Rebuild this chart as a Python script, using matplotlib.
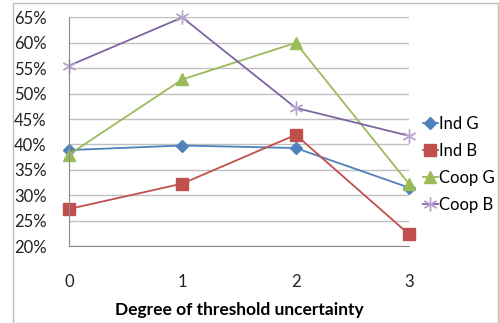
import matplotlib.pyplot as plt
from matplotlib.patches import Rectangle

# data
degree = [0, 1, 2, 3]
ind_g = [38.9, 39.8, 39.3, 31.5]
ind_b = [27.3, 32.3, 41.9, 22.3]
coop_g = [38.0, 52.8, 60.0, 32.2]
coop_b = [55.5, 65.0, 47.2, 41.7]
yticks = [20, 25, 30, 35, 40, 45, 50, 55, 60, 65]

plt.rcParams['font.family'] = ['Lato', 'DejaVu Sans']

fig = plt.figure(figsize=(4.99, 3.23), dpi=100)
ax = fig.add_axes([0.138, 0.238, 0.682, 0.708])

ax.plot(degree, ind_g, color='#4F81BD', marker='D', markersize=6, lw=1.3, label='Ind G', clip_on=False)
ax.plot(degree, ind_b, color='#C0504D', marker='s', markersize=8, lw=1.3, label='Ind B', clip_on=False)
ax.plot(degree, coop_g, color='#9BBB59', marker='^', markersize=9, lw=1.3, label='Coop G', clip_on=False)
ax.plot(degree, coop_b, color='#8064A2', marker=(6, 2, 0), markersize=10, lw=1.3,
        markeredgecolor='#B7A6D0', markeredgewidth=1, label='Coop B', clip_on=False)

ax.set_xlim(0, 3)
ax.set_ylim(20, 65)
ax.set_xticks(degree)
ax.set_yticks(yticks)
ax.set_yticklabels([f'{v}%' for v in yticks])
ax.tick_params(axis='both', length=0, labelsize=12, colors='#222222')
ax.tick_params(axis='x', pad=20)
ax.tick_params(axis='y', pad=16)
ax.grid(axis='y', color='#C0C0C0', lw=1)
ax.set_axisbelow(True)
for s in ['top', 'right']:
    ax.spines[s].set_visible(False)
for s in ['left', 'bottom']:
    ax.spines[s].set_color('#8C8C8C')

ax.set_xlabel('Degree of threshold uncertainty', fontsize=12.5, fontweight='bold', labelpad=9)

ax.legend(loc='center left', bbox_to_anchor=(1.025, 0.357), frameon=False, fontsize=12,
          handlelength=0.9, handletextpad=0.05, labelspacing=0.65, borderaxespad=0.1,
          borderpad=0.2)

# outer chart border
fig.patches.append(Rectangle((12.5 / 499, 0.5 / 323), 485 / 499, 320 / 323,
                             transform=fig.transFigure, fill=False,
                             edgecolor='#BFBFBF', lw=1))

fig.savefig('out.png', dpi=100)
